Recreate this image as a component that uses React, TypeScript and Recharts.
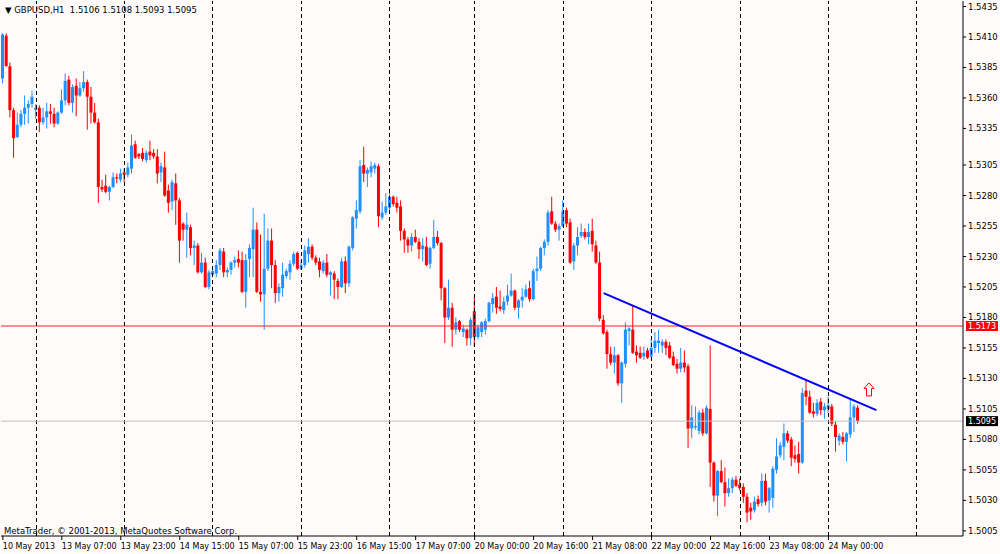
import React from "react";
import {
  ComposedChart,
  Bar,
  XAxis,
  YAxis,
  ReferenceLine,
  ReferenceDot,
} from "recharts";

// GBPUSD H1, 10 May 2013 15:00 .. 24 May 2013 08:00 (one value per hourly bar)
const SYMBOL = "GBPUSD,H1";

const OPEN = [
  1.5376, 1.5411, 1.5386, 1.5350, 1.5328, 1.5338, 1.5347, 1.5352, 1.5355, 1.5350,
  1.5352, 1.5340, 1.5344, 1.5349, 1.5347, 1.5339, 1.5348, 1.5358, 1.5375, 1.5356,
  1.5370, 1.5362, 1.5368, 1.5373, 1.5361, 1.5348, 1.5340, 1.5287, 1.5288, 1.5283,
  1.5287, 1.5295, 1.5293, 1.5299, 1.5297, 1.5302, 1.5322, 1.5314, 1.5315, 1.5309,
  1.5316, 1.5315, 1.5312, 1.5299, 1.5303, 1.5284, 1.5275, 1.5290, 1.5276, 1.5257,
  1.5252, 1.5254, 1.5237, 1.5239, 1.5217, 1.5225, 1.5205, 1.5215, 1.5216, 1.5223,
  1.5234, 1.5217, 1.5219, 1.5225, 1.5228, 1.5227, 1.5201, 1.5228, 1.5236, 1.5252,
  1.5201, 1.5199, 1.5220, 1.5243, 1.5223, 1.5200, 1.5204, 1.5214, 1.5217, 1.5224,
  1.5233, 1.5220, 1.5223, 1.5232, 1.5238, 1.5229, 1.5226, 1.5218, 1.5225, 1.5215,
  1.5216, 1.5210, 1.5205, 1.5226, 1.5208, 1.5237, 1.5261, 1.5267, 1.5305, 1.5298,
  1.5299, 1.5302, 1.5304, 1.5262, 1.5266, 1.5270, 1.5279, 1.5274, 1.5271, 1.5251,
  1.5244, 1.5239, 1.5246, 1.5242, 1.5236, 1.5238, 1.5224, 1.5237, 1.5246, 1.5241,
  1.5204, 1.5180, 1.5188, 1.5170, 1.5177, 1.5168, 1.5170, 1.5163, 1.5185, 1.5164,
  1.5168, 1.5170, 1.5177, 1.5191, 1.5197, 1.5189, 1.5186, 1.5193, 1.5198, 1.5202,
  1.5188, 1.5194, 1.5197, 1.5204, 1.5195, 1.5218, 1.5220, 1.5237, 1.5242, 1.5267,
  1.5257, 1.5252, 1.5255, 1.5268, 1.5258, 1.5226, 1.5239, 1.5247, 1.5250, 1.5246,
  1.5251, 1.5239, 1.5225, 1.5178, 1.5168, 1.5150, 1.5143, 1.5149, 1.5126, 1.5142,
  1.5169, 1.5170, 1.5152, 1.5151, 1.5148, 1.5153, 1.5148, 1.5155, 1.5159, 1.5157,
  1.5160, 1.5157, 1.5148, 1.5142, 1.5138, 1.5143, 1.5140, 1.5089, 1.5090, 1.5087,
  1.5102, 1.5085, 1.5105, 1.5061, 1.5034, 1.5054, 1.5045, 1.5036, 1.5040, 1.5047,
  1.5043, 1.5041, 1.5033, 1.5024, 1.5022, 1.5031, 1.5028, 1.5046, 1.5030, 1.5032,
  1.5055, 1.5067, 1.5074, 1.5085, 1.5080, 1.5067, 1.5068, 1.5061, 1.5120, 1.5115,
  1.5103, 1.5101, 1.5111, 1.5104, 1.5105, 1.5107, 1.5092, 1.5079, 1.5082, 1.5078,
  1.5084, 1.5098, 1.5106,
];

const HIGH = [
  1.5413, 1.5413, 1.5389, 1.5352, 1.5348, 1.5350, 1.5362, 1.5358, 1.5366, 1.5355,
  1.5354, 1.5352, 1.5356, 1.5355, 1.5352, 1.5349, 1.5367, 1.5380, 1.5378, 1.5371,
  1.5376, 1.5373, 1.5382, 1.5375, 1.5369, 1.5356, 1.5343, 1.5293, 1.5297, 1.5288,
  1.5299, 1.5298, 1.5302, 1.5302, 1.5307, 1.5330, 1.5325, 1.5315, 1.5319, 1.5317,
  1.5325, 1.5318, 1.5318, 1.5307, 1.5316, 1.5289, 1.5293, 1.5298, 1.5278, 1.5258,
  1.5266, 1.5256, 1.5243, 1.5241, 1.5233, 1.5229, 1.5219, 1.5222, 1.5227, 1.5237,
  1.5237, 1.5221, 1.5226, 1.5230, 1.5235, 1.5234, 1.5232, 1.5240, 1.5270, 1.5258,
  1.5248, 1.5265, 1.5253, 1.5253, 1.5227, 1.5208, 1.5225, 1.5220, 1.5227, 1.5234,
  1.5234, 1.5227, 1.5239, 1.5245, 1.5240, 1.5231, 1.5229, 1.5227, 1.5232, 1.5218,
  1.5218, 1.5212, 1.5229, 1.5230, 1.5239, 1.5263, 1.5276, 1.5309, 1.5320, 1.5303,
  1.5308, 1.5307, 1.5306, 1.5275, 1.5282, 1.5282, 1.5280, 1.5279, 1.5276, 1.5253,
  1.5246, 1.5249, 1.5252, 1.5245, 1.5245, 1.5246, 1.5238, 1.5260, 1.5251, 1.5242,
  1.5205, 1.5211, 1.5192, 1.5180, 1.5178, 1.5174, 1.5171, 1.5180, 1.5197, 1.5174,
  1.5177, 1.5179, 1.5193, 1.5200, 1.5205, 1.5202, 1.5197, 1.5207, 1.5216, 1.5203,
  1.5195, 1.5204, 1.5207, 1.5210, 1.5220, 1.5230, 1.5238, 1.5244, 1.5268, 1.5279,
  1.5259, 1.5257, 1.5276, 1.5270, 1.5261, 1.5241, 1.5254, 1.5257, 1.5253, 1.5257,
  1.5261, 1.5243, 1.5234, 1.5182, 1.5170, 1.5156, 1.5156, 1.5150, 1.5144, 1.5176,
  1.5172, 1.5190, 1.5157, 1.5156, 1.5156, 1.5155, 1.5162, 1.5168, 1.5170, 1.5162,
  1.5162, 1.5160, 1.5152, 1.5146, 1.5155, 1.5153, 1.5142, 1.5108, 1.5107, 1.5104,
  1.5105, 1.5108, 1.5157, 1.5062, 1.5055, 1.5063, 1.5057, 1.5048, 1.5049, 1.5050,
  1.5048, 1.5044, 1.5036, 1.5028, 1.5033, 1.5034, 1.5052, 1.5052, 1.5041, 1.5058,
  1.5081, 1.5078, 1.5093, 1.5087, 1.5082, 1.5075, 1.5078, 1.5122, 1.5129, 1.5120,
  1.5110, 1.5113, 1.5114, 1.5110, 1.5115, 1.5109, 1.5095, 1.5085, 1.5086, 1.5086,
  1.5113, 1.5109, 1.5108,
];

const LOW = [
  1.5372, 1.5386, 1.5344, 1.5311, 1.5327, 1.5336, 1.5338, 1.5339, 1.5352, 1.5343,
  1.5332, 1.5338, 1.5335, 1.5339, 1.5336, 1.5338, 1.5347, 1.5354, 1.5354, 1.5348,
  1.5345, 1.5361, 1.5365, 1.5334, 1.5339, 1.5339, 1.5274, 1.5283, 1.5282, 1.5276,
  1.5286, 1.5290, 1.5291, 1.5291, 1.5295, 1.5298, 1.5310, 1.5310, 1.5308, 1.5307,
  1.5309, 1.5310, 1.5290, 1.5291, 1.5279, 1.5266, 1.5268, 1.5256, 1.5225, 1.5243,
  1.5229, 1.5231, 1.5223, 1.5216, 1.5216, 1.5204, 1.5203, 1.5213, 1.5213, 1.5219,
  1.5213, 1.5213, 1.5215, 1.5221, 1.5221, 1.5200, 1.5188, 1.5213, 1.5213, 1.5200,
  1.5193, 1.5170, 1.5218, 1.5204, 1.5192, 1.5193, 1.5197, 1.5212, 1.5211, 1.5222,
  1.5219, 1.5219, 1.5221, 1.5225, 1.5227, 1.5223, 1.5213, 1.5216, 1.5213, 1.5198,
  1.5195, 1.5195, 1.5204, 1.5200, 1.5205, 1.5235, 1.5253, 1.5265, 1.5291, 1.5287,
  1.5295, 1.5298, 1.5254, 1.5260, 1.5264, 1.5266, 1.5271, 1.5266, 1.5243, 1.5233,
  1.5233, 1.5234, 1.5241, 1.5228, 1.5226, 1.5222, 1.5220, 1.5236, 1.5239, 1.5194,
  1.5159, 1.5178, 1.5156, 1.5166, 1.5168, 1.5164, 1.5157, 1.5157, 1.5156, 1.5162,
  1.5164, 1.5166, 1.5176, 1.5184, 1.5183, 1.5185, 1.5183, 1.5190, 1.5197, 1.5186,
  1.5179, 1.5188, 1.5196, 1.5193, 1.5194, 1.5210, 1.5218, 1.5231, 1.5239, 1.5256,
  1.5250, 1.5243, 1.5254, 1.5254, 1.5224, 1.5219, 1.5231, 1.5245, 1.5244, 1.5240,
  1.5234, 1.5224, 1.5177, 1.5166, 1.5138, 1.5141, 1.5134, 1.5124, 1.5110, 1.5139,
  1.5157, 1.5150, 1.5143, 1.5146, 1.5145, 1.5146, 1.5146, 1.5151, 1.5151, 1.5151,
  1.5149, 1.5146, 1.5140, 1.5134, 1.5135, 1.5135, 1.5073, 1.5081, 1.5088, 1.5084,
  1.5083, 1.5084, 1.5041, 1.5029, 1.5017, 1.5044, 1.5025, 1.5033, 1.5036, 1.5041,
  1.5038, 1.5028, 1.5012, 1.5014, 1.5020, 1.5025, 1.5025, 1.5026, 1.5020, 1.5024,
  1.5052, 1.5065, 1.5063, 1.5077, 1.5058, 1.5061, 1.5052, 1.5060, 1.5108, 1.5101,
  1.5098, 1.5099, 1.5100, 1.5097, 1.5102, 1.5091, 1.5070, 1.5075, 1.5076, 1.5062,
  1.5081, 1.5086, 1.5093,
];

const CLOSE = [
  1.5412, 1.5386, 1.5350, 1.5327, 1.5338, 1.5347, 1.5352, 1.5355, 1.5361, 1.5352,
  1.5340, 1.5344, 1.5349, 1.5347, 1.5339, 1.5348, 1.5358, 1.5374, 1.5356, 1.5369,
  1.5362, 1.5368, 1.5373, 1.5361, 1.5348, 1.5340, 1.5287, 1.5285, 1.5283, 1.5287,
  1.5295, 1.5294, 1.5298, 1.5297, 1.5303, 1.5321, 1.5311, 1.5312, 1.5310, 1.5315,
  1.5313, 1.5312, 1.5298, 1.5304, 1.5280, 1.5274, 1.5291, 1.5276, 1.5243, 1.5252,
  1.5256, 1.5237, 1.5239, 1.5217, 1.5225, 1.5205, 1.5217, 1.5218, 1.5223, 1.5235,
  1.5217, 1.5219, 1.5225, 1.5227, 1.5225, 1.5201, 1.5227, 1.5237, 1.5252, 1.5201,
  1.5199, 1.5220, 1.5243, 1.5223, 1.5200, 1.5205, 1.5215, 1.5218, 1.5224, 1.5232,
  1.5220, 1.5223, 1.5235, 1.5238, 1.5229, 1.5225, 1.5219, 1.5225, 1.5215, 1.5217,
  1.5211, 1.5205, 1.5226, 1.5208, 1.5238, 1.5262, 1.5268, 1.5304, 1.5298, 1.5301,
  1.5304, 1.5305, 1.5263, 1.5266, 1.5271, 1.5279, 1.5273, 1.5270, 1.5251, 1.5244,
  1.5239, 1.5246, 1.5242, 1.5236, 1.5239, 1.5223, 1.5237, 1.5246, 1.5241, 1.5204,
  1.5180, 1.5188, 1.5170, 1.5176, 1.5170, 1.5171, 1.5163, 1.5178, 1.5164, 1.5172,
  1.5176, 1.5177, 1.5192, 1.5196, 1.5188, 1.5187, 1.5193, 1.5198, 1.5202, 1.5188,
  1.5194, 1.5197, 1.5203, 1.5195, 1.5218, 1.5220, 1.5237, 1.5242, 1.5266, 1.5257,
  1.5252, 1.5255, 1.5267, 1.5257, 1.5225, 1.5239, 1.5246, 1.5250, 1.5246, 1.5250,
  1.5240, 1.5225, 1.5179, 1.5167, 1.5150, 1.5143, 1.5149, 1.5126, 1.5143, 1.5170,
  1.5171, 1.5151, 1.5149, 1.5147, 1.5151, 1.5147, 1.5155, 1.5161, 1.5161, 1.5160,
  1.5155, 1.5147, 1.5141, 1.5138, 1.5143, 1.5139, 1.5089, 1.5098, 1.5091, 1.5102,
  1.5085, 1.5106, 1.5061, 1.5034, 1.5054, 1.5045, 1.5036, 1.5040, 1.5047, 1.5042,
  1.5040, 1.5033, 1.5020, 1.5021, 1.5029, 1.5027, 1.5046, 1.5029, 1.5040, 1.5056,
  1.5066, 1.5075, 1.5085, 1.5079, 1.5065, 1.5064, 1.5061, 1.5118, 1.5115, 1.5102,
  1.5101, 1.5110, 1.5104, 1.5107, 1.5108, 1.5093, 1.5082, 1.5083, 1.5078, 1.5085,
  1.5098, 1.5107, 1.5095,
];

// empty slots to the right (chart shift)
const SLOTS = 261;

// bar index where each trading day starts (period separators)
const DAY_STARTS = [9, 33, 57, 81, 105, 128, 152, 176, 200, 224, 248];

const TIME_TICKS = [0, 16, 32, 48, 64, 80, 96, 112, 128, 144, 160, 176, 192, 208, 224];
const TIME_LABELS = [
  "10 May 2013",
  "13 May 07:00",
  "13 May 23:00",
  "14 May 15:00",
  "15 May 07:00",
  "15 May 23:00",
  "16 May 15:00",
  "17 May 07:00",
  "20 May 00:00",
  "20 May 16:00",
  "21 May 08:00",
  "22 May 00:00",
  "22 May 16:00",
  "23 May 08:00",
  "24 May 00:00",
];

const PRICE_TICKS = [
  1.5435, 1.541, 1.5385, 1.536, 1.5335, 1.5305, 1.528, 1.5255, 1.523, 1.5205,
  1.518, 1.5155, 1.513, 1.5105, 1.508, 1.5055, 1.503, 1.5005,
];
const PRICE_DOMAIN = [1.50008, 1.54395];

const SUPPORT = 1.5173;
const TREND = [
  { i: 163, price: 1.52 },
  { i: 237, price: 1.5104 },
];
const SIGNAL = { i: 235, price: 1.5121 };

const UP = "#1e90ff";
const DOWN = "#ff0000";
const BG = "#fffbfb";
const FONT = "'DejaVu Sans', Verdana, sans-serif";

const last = CLOSE.length - 1;
const fmt = (v: number) => v.toFixed(4);

const data = Array.from({ length: SLOTS }, (_, i) =>
  i <= last
    ? {
        i,
        o: OPEN[i],
        c: CLOSE[i],
        h: Math.max(HIGH[i], OPEN[i], CLOSE[i]),
        l: Math.min(LOW[i], OPEN[i], CLOSE[i]),
      }
    : { i },
);

function Candle(props: any) {
  const { x, y, width, height, payload } = props;
  if (!payload || payload.c == null) return null;
  const { o, h, l, c } = payload;
  const cx = x + width / 2;
  const k = h > l ? height / (h - l) : 0;
  const top = y + (h - Math.max(o, c)) * k;
  const bot = y + (h - Math.min(o, c)) * k;
  const color = c >= o ? UP : DOWN;
  return (
    <g>
      <line x1={cx} x2={cx} y1={y} y2={y + height} stroke={color} strokeWidth={1} />
      <rect x={cx - 1.5} y={top} width={3} height={Math.max(bot - top, 1)} fill={color} />
    </g>
  );
}

function TimeTick(props: any) {
  const { x, y, payload } = props;
  const idx = TIME_TICKS.indexOf(payload.value);
  if (idx < 0) return null;
  return (
    <g>
      <line x1={x} x2={x} y1={y} y2={y + 4} stroke="#000" />
      <text x={x} y={y + 13} fontSize={8} fontFamily={FONT} fill="#000">
        {TIME_LABELS[idx]}
      </text>
    </g>
  );
}

function PriceTag(props: any) {
  const { viewBox, bg, value } = props;
  if (!viewBox) return null;
  const x = viewBox.x + viewBox.width + 3;
  const y = viewBox.y;
  return (
    <g>
      <rect x={x} y={y - 5} width={32} height={10} fill={bg} />
      <text x={x + 2} y={y + 3} fontSize={8} fontFamily={FONT} fill="#fff">
        {fmt(value)}
      </text>
    </g>
  );
}

function ArrowUp(props: any) {
  const { cx, cy } = props;
  return (
    <path
      transform={`translate(${cx},${cy})`}
      d="M0,-6.5 L5,-1 L2.5,-1 L2.5,6.5 L-2.5,6.5 L-2.5,-1 L-5,-1 Z"
      fill="#fff"
      stroke={DOWN}
      strokeWidth={1}
    />
  );
}

export default function App() {
  const header = `\u25BC ${SYMBOL}  ${fmt(OPEN[last])} ${fmt(HIGH[last])} ${fmt(LOW[last])} ${fmt(CLOSE[last])}`;
  return (
    <div
      style={{
        position: "fixed",
        left: 0,
        top: 0,
        width: 1000,
        height: 554,
        background: BG,
        fontFamily: FONT,
      }}
    >
      <ComposedChart
        width={1000}
        height={554}
        data={data}
        margin={{ top: 1, right: 0, bottom: 0, left: 1 }}
        barCategoryGap={0}
      >
        <XAxis
          dataKey="i"
          type="category"
          ticks={TIME_TICKS}
          interval={0}
          height={18}
          tickSize={0}
          tickMargin={0}
          tickLine={false}
          tick={<TimeTick />}
          axisLine={{ stroke: "#000" }}
        />
        <XAxis
          xAxisId="top"
          dataKey="i"
          type="category"
          orientation="top"
          height={0}
          tick={false}
          tickLine={false}
          axisLine={{ stroke: "#000" }}
        />
        <YAxis
          orientation="right"
          type="number"
          domain={PRICE_DOMAIN}
          allowDataOverflow
          ticks={PRICE_TICKS}
          interval={0}
          tickFormatter={(v: number) => fmt(v)}
          width={37}
          tickSize={3}
          tickMargin={2}
          axisLine={{ stroke: "#000" }}
          tickLine={{ stroke: "#000" }}
          tick={{ fontSize: 8.5, fill: "#000", fontFamily: FONT }}
        />
        <YAxis
          yAxisId="left"
          orientation="left"
          type="number"
          domain={PRICE_DOMAIN}
          allowDataOverflow
          width={0}
          tick={false}
          tickLine={false}
          axisLine={{ stroke: "#000" }}
        />
        {DAY_STARTS.map((d) => (
          <ReferenceLine
            key={d}
            x={d}
            stroke="#000"
            strokeDasharray="4 3"
            shapeRendering="crispEdges"
          />
        ))}
        <ReferenceLine
          y={SUPPORT}
          stroke="#ff2020"
          strokeWidth={1}
          label={<PriceTag bg="#ff0000" value={SUPPORT} />}
        />
        <ReferenceLine
          y={CLOSE[last]}
          stroke="#c0c0c0"
          strokeWidth={1}
          label={<PriceTag bg="#000000" value={CLOSE[last]} />}
        />
        <Bar
          dataKey={(d: any) => (d.c == null ? null : [d.l, d.h])}
          shape={Candle}
          barSize={3}
          isAnimationActive={false}
        />
        <ReferenceLine
          segment={[
            { x: TREND[0].i, y: TREND[0].price },
            { x: TREND[1].i, y: TREND[1].price },
          ]}
          stroke="#0000ff"
          strokeWidth={2}
        />
        <ReferenceDot x={SIGNAL.i} y={SIGNAL.price} shape={<ArrowUp />} />
      </ComposedChart>
      <div
        style={{
          position: "absolute",
          left: 5,
          top: 4,
          fontSize: 8.5,
          lineHeight: "12px",
          whiteSpace: "pre",
          color: "#000",
        }}
      >
        {header}
      </div>
      <div
        style={{
          position: "absolute",
          left: 4,
          top: 525,
          fontSize: 8.5,
          lineHeight: "12px",
          whiteSpace: "pre",
          color: "#000",
        }}
      >
        MetaTrader, © 2001-2013, MetaQuotes Software Corp.
      </div>
    </div>
  );
}
